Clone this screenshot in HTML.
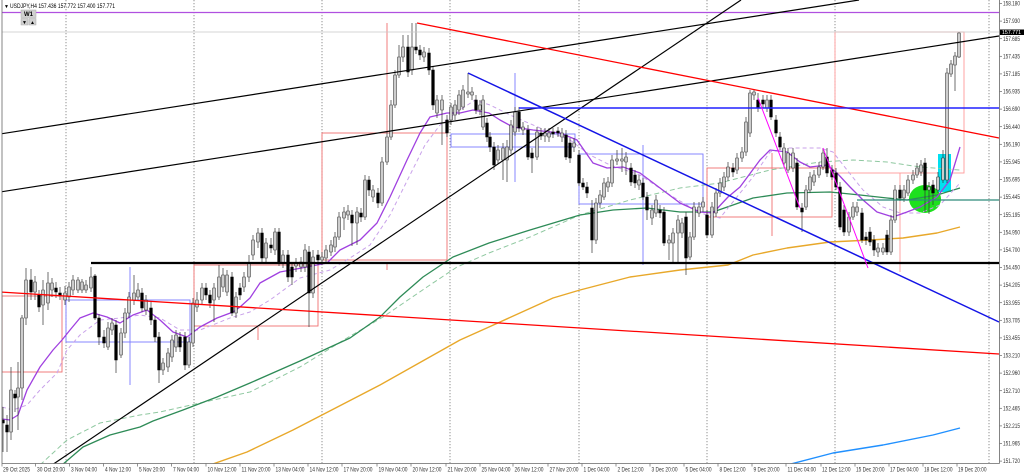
<!DOCTYPE html>
<html><head><meta charset="utf-8"><style>
html,body{margin:0;padding:0;background:#fff;}
svg{display:block;}
text{font-family:"Liberation Sans",sans-serif;}
</style></head><body>
<svg width="1024" height="475" viewBox="0 0 1024 475" xmlns="http://www.w3.org/2000/svg">
<defs><clipPath id="c"><rect x="2" y="0" width="997.5" height="463.5"/></clipPath></defs>
<rect width="1024" height="475" fill="#fff"/>
<g clip-path="url(#c)">
<!-- grid -->
<g stroke="#777" stroke-width="0.8" stroke-dasharray="1.2 1.8">
<line x1="66" y1="0" x2="66" y2="463"/><line x1="194" y1="0" x2="194" y2="463"/><line x1="322" y1="0" x2="322" y2="463"/><line x1="450" y1="0" x2="450" y2="463"/><line x1="579" y1="0" x2="579" y2="463"/><line x1="707" y1="0" x2="707" y2="463"/><line x1="835" y1="0" x2="835" y2="463"/><line x1="989" y1="0" x2="989" y2="463"/>
</g>
<!-- boxes -->
<g fill="none" stroke="#f07070" stroke-width="0.9">
<rect x="2" y="296" width="60" height="76"/>
<rect x="194" y="265" width="124" height="61"/>
<rect x="322" y="133" width="125" height="127"/>
<rect x="707" y="168" width="125" height="49"/>
<line x1="387" y1="23" x2="387" y2="133"/><line x1="387" y1="263" x2="387" y2="270"/>
<line x1="258" y1="327" x2="258" y2="340"/>
<line x1="772" y1="153" x2="772" y2="236"/>
</g>
<g fill="none" stroke="#ff9a9a" stroke-width="0.9">
<rect x="835" y="32" width="129" height="141"/>
<line x1="900" y1="173" x2="900" y2="272"/>
</g>
<g fill="none" stroke="#7a7aff" stroke-width="0.9">
<rect x="66" y="300" width="124" height="42"/>
<line x1="130" y1="267" x2="130" y2="385"/>
<rect x="451" y="134" width="124" height="13"/>
<line x1="515" y1="73" x2="515" y2="182"/>
<rect x="579" y="154" width="124" height="50"/>
<line x1="643" y1="145" x2="643" y2="265"/>
</g>
<!-- highlights -->
<ellipse cx="925" cy="199" rx="16" ry="14" fill="#1ee01e"/>
<rect x="938" y="154" width="13" height="38" fill="#00e0f0"/>
<!-- MAs -->
<g fill="none" stroke-linejoin="round">
<polyline stroke="#8fc8a0" stroke-width="1" stroke-dasharray="5 3" points="40,465 67,440 100,423 140,415 160,412 200,403 250,392 300,367 347,338 383,317 427,287 457,267 489,253 530,237 580,215 630,200 680,188 720,183 770,170 820,162 853,160 887,162 920,167 960,170"/>
<polyline stroke="#2e8b57" stroke-width="1.3" points="62,465 83,447 110,435 140,427 153,421 183,410 217,397 250,383 300,361 350,338 380,317 400,297 423,277 453,257 489,243 530,230 580,215 613,210 647,208 680,212 713,212 753,198 787,193 830,192 860,195 887,198 907,200 937,195 960,188"/>
<polyline stroke="#e8a82a" stroke-width="1.4" points="210,465 247,452 293,430 380,385 460,340 489,327 553,298 580,290 630,277 680,270 728,265 753,255 787,248 830,242 870,240 903,238 937,233 960,227"/>
<polyline stroke="#2090ff" stroke-width="1.4" points="787,465 833,453 883,445 933,435 960,428"/>
<polyline stroke="#c9a2ea" stroke-width="1" stroke-dasharray="4 3" points="2,407 13,410 27,405 40,390 57,373 67,350 80,335 100,320 120,318 140,315 160,318 180,330 200,330 230,318 250,312 270,300 300,278 330,270 350,258 370,245 390,215 410,175 425,145 440,125 460,110 475,100 490,105 510,115 540,128 570,140 590,155 610,165 640,175 670,195 700,213 720,218 753,177 770,152 787,148 820,148 833,152 847,170 863,190 883,207 900,213 920,213 940,205 960,183"/>
<polyline stroke="#a040e0" stroke-width="1.3" points="2,419 10,420 18,415 27,390 40,367 53,350 62,340 70,330 80,318 93,313 107,317 120,323 133,315 147,310 160,320 173,332 187,337 200,327 217,318 233,312 240,307 250,298 260,283 280,272 307,267 327,263 340,250 360,240 377,223 390,197 407,160 420,133 430,117 447,113 460,113 473,110 489,113 500,120 513,127 533,130 560,133 577,140 593,163 607,168 623,167 640,173 660,188 680,203 700,212 713,213 728,197 740,187 760,160 770,150 787,152 800,162 810,167 827,165 837,173 850,187 863,200 877,212 893,217 907,212 920,207 937,197 950,180 960,147"/>
</g>
<!-- candles -->
<path fill="none" stroke="#333" stroke-width="0.7" d="M3 407V452M7 415V452M11 367V440M15 390V412M18 362V430M22 315V400M26 268V325M31 269V300M35 276V300M39 290V312M43 280V325M48 272V310M52 278V297M56 282V298M60 287V300M65 286V305M69 282V302M73 275V295M78 277V293M82 279V293M86 280V293M91 267V292M95 274V320M99 314V345M104 330V348M108 322V350M112 318V335M116 320V373M121 328V358M125 308V338M129 292V318M134 275V305M138 283V300M142 288V312M146 295V315M151 302V325M155 316V342M159 332V383M163 358V375M168 348V372M172 335V362M176 330V352M180 332V352M185 332V370M189 337V368M193 298V347M197 292V312M202 283V305M206 283V300M210 290V308M214 283V322M219 265V300M223 268V292M227 270V296M232 272V316M236 292V318M240 283V300M244 272V292M249 255V282M253 235V260M258 228V248M262 228V262M266 238V262M271 238V253M275 228V255M279 228V266M283 250V268M288 250V282M292 262V285M296 258V272M301 257V272M305 244V272M309 246V327M313 250V298M318 250V265M322 252V265M326 245V262M331 240V256M335 232V252M339 212V240M344 207V230M348 205V220M352 210V246M357 207V245M361 208V222M365 175V220M369 176V196M373 185V202M378 188V208M382 157V206M387 132V165M391 100V140M395 70V108M399 45V78M403 35V62M408 35V77M412 23V75M416 23V54M420 45V60M424 47V62M429 48V75M433 66V110M437 95V118M442 95V145M447 115V137M451 103V125M455 100V120M459 90V115M463 85V110M468 73V98M472 87V100M476 95V114M480 100V115M483 95V130M487 118V142M490 132V152M494 142V170M498 145V164M503 143V180M507 140V182M511 120V154M515 107V136M519 107V132M523 122V135M528 125V160M532 148V173M537 127V160M541 128V140M545 128V142M549 128V142M553 128V138M558 127V137M562 128V142M566 130V160M570 138V163M574 138V152M579 150V186M583 178V190M587 182V198M592 200V253M596 198V244M600 190V208M604 178V200M608 177V192M612 155V187M617 150V165M622 148V172M626 152V175M631 163V186M635 170V188M639 175V190M643 178V200M647 192V220M652 205V225M656 195V217M660 205V218M664 207V246M669 235V260M673 228V262M678 215V262M682 218V238M686 212V275M690 232V260M694 202V240M699 202V217M703 197V212M707 210V238M712 202V238M716 188V217M720 178V197M724 172V191M728 162V181M733 163V177M737 153V174M742 147V162M746 117V156M750 90V137M754 90V100M758 93V112M763 95V108M767 95V112M771 95V120M776 115V137M780 132V150M784 143V167M788 148V173M793 148V172M797 158V210M802 203V232M806 185V210M810 172V193M814 170V186M819 162V178M823 148V170M827 148V177M832 165V180M836 168V190M840 182V230M844 205V236M849 212V236M853 202V220M857 202V216M862 208V243M866 232V245M870 227V246M874 235V256M878 243V257M883 243V255M887 230V255M891 215V255M895 185V223M900 185V201M904 185V202M908 175V196M913 170V184M917 163V178M921 160V176M925 158V212M929 182V214M933 180V205M938 172V193M943 150V183M947 68V183M951 60V77M955 52V91M959 32V58"/>
<g transform="translate(-1.3 0)">
<path fill="#cdcdcd" stroke="#333" stroke-width="0.6" d="M11 390h2.6V432h-2.6zM18 388h2.6V397h-2.6zM22 318h2.6V388h-2.6zM26 280h2.6V318h-2.6zM35 282h2.6V292h-2.6zM43 290h2.6V305h-2.6zM48 283h2.6V303h-2.6zM52 283h2.6V290h-2.6zM65 293h2.6V300h-2.6zM69 287h2.6V297h-2.6zM73 280h2.6V290h-2.6zM78 280h2.6V290h-2.6zM82 282h2.6V290h-2.6zM86 285h2.6V290h-2.6zM91 277h2.6V288h-2.6zM108 328h2.6V347h-2.6zM112 323h2.6V330h-2.6zM121 333h2.6V355h-2.6zM125 313h2.6V333h-2.6zM129 297h2.6V313h-2.6zM134 293h2.6V300h-2.6zM138 290h2.6V297h-2.6zM146 300h2.6V310h-2.6zM163 363h2.6V370h-2.6zM168 353h2.6V367h-2.6zM172 340h2.6V357h-2.6zM176 335h2.6V347h-2.6zM189 342h2.6V365h-2.6zM193 303h2.6V343h-2.6zM197 300h2.6V307h-2.6zM202 288h2.6V300h-2.6zM214 288h2.6V300h-2.6zM219 277h2.6V297h-2.6zM223 275h2.6V287h-2.6zM227 275h2.6V292h-2.6zM236 297h2.6V313h-2.6zM244 277h2.6V287h-2.6zM249 263h2.6V277h-2.6zM253 240h2.6V255h-2.6zM258 233h2.6V242h-2.6zM266 243h2.6V258h-2.6zM275 232h2.6V250h-2.6zM283 255h2.6V263h-2.6zM296 263h2.6V266h-2.6zM301 262h2.6V267h-2.6zM305 250h2.6V267h-2.6zM313 257h2.6V293h-2.6zM322 257h2.6V260h-2.6zM326 250h2.6V258h-2.6zM331 245h2.6V252h-2.6zM335 237h2.6V247h-2.6zM339 217h2.6V237h-2.6zM344 212h2.6V218h-2.6zM348 211h2.6V215h-2.6zM357 212h2.6V223h-2.6zM365 180h2.6V217h-2.6zM373 190h2.6V197h-2.6zM382 162h2.6V203h-2.6zM387 137h2.6V162h-2.6zM391 105h2.6V137h-2.6zM395 75h2.6V105h-2.6zM399 57h2.6V75h-2.6zM403 47h2.6V57h-2.6zM412 47h2.6V70h-2.6zM424 52h2.6V57h-2.6zM437 100h2.6V113h-2.6zM442 100h2.6V110h-2.6zM451 107h2.6V120h-2.6zM455 105h2.6V115h-2.6zM459 95h2.6V110h-2.6zM463 90h2.6V107h-2.6zM468 92h2.6V94h-2.6zM472 92h2.6V95h-2.6zM480 105h2.6V110h-2.6zM483 100h2.6V127h-2.6zM498 150h2.6V160h-2.6zM503 148h2.6V160h-2.6zM507 147h2.6V160h-2.6zM511 125h2.6V150h-2.6zM515 112h2.6V132h-2.6zM523 127h2.6V130h-2.6zM537 132h2.6V157h-2.6zM545 133h2.6V136h-2.6zM549 133h2.6V137h-2.6zM562 133h2.6V137h-2.6zM574 143h2.6V147h-2.6zM596 203h2.6V240h-2.6zM600 195h2.6V203h-2.6zM604 183h2.6V197h-2.6zM608 182h2.6V187h-2.6zM612 160h2.6V183h-2.6zM617 159h2.6V161h-2.6zM622 159h2.6V161h-2.6zM626 157h2.6V162h-2.6zM639 180h2.6V185h-2.6zM652 210h2.6V218h-2.6zM656 200h2.6V213h-2.6zM669 240h2.6V243h-2.6zM673 233h2.6V243h-2.6zM678 220h2.6V233h-2.6zM682 223h2.6V233h-2.6zM690 237h2.6V257h-2.6zM694 207h2.6V237h-2.6zM699 207h2.6V213h-2.6zM703 202h2.6V207h-2.6zM712 207h2.6V235h-2.6zM716 193h2.6V213h-2.6zM720 183h2.6V193h-2.6zM724 177h2.6V187h-2.6zM728 167h2.6V177h-2.6zM737 158h2.6V170h-2.6zM742 152h2.6V158h-2.6zM746 122h2.6V152h-2.6zM750 93h2.6V133h-2.6zM754 92h2.6V95h-2.6zM767 100h2.6V108h-2.6zM784 148h2.6V163h-2.6zM788 153h2.6V170h-2.6zM793 153h2.6V168h-2.6zM806 190h2.6V207h-2.6zM810 177h2.6V190h-2.6zM814 175h2.6V182h-2.6zM819 167h2.6V175h-2.6zM823 153h2.6V167h-2.6zM849 217h2.6V232h-2.6zM853 207h2.6V217h-2.6zM857 207h2.6V212h-2.6zM878 248h2.6V252h-2.6zM883 248h2.6V252h-2.6zM891 220h2.6V252h-2.6zM895 190h2.6V220h-2.6zM904 190h2.6V198h-2.6zM908 180h2.6V193h-2.6zM913 175h2.6V180h-2.6zM917 168h2.6V175h-2.6zM921 165h2.6V172h-2.6zM929 187h2.6V190h-2.6zM938 177h2.6V190h-2.6zM943 158h2.6V180h-2.6zM947 73h2.6V180h-2.6zM951 64h2.6V74h-2.6zM955 56h2.6V65h-2.6zM959 33h2.6V57h-2.6z"/>
<path fill="#000" stroke="#000" stroke-width="0.6" d="M3 420h2.6V423h-2.6zM7 425h2.6V432h-2.6zM15 394h2.6V398h-2.6zM31 280h2.6V292h-2.6zM39 295h2.6V307h-2.6zM56 288h2.6V292h-2.6zM60 293h2.6V296h-2.6zM95 276h2.6V318h-2.6zM99 318h2.6V337h-2.6zM104 337h2.6V343h-2.6zM116 325h2.6V360h-2.6zM142 293h2.6V308h-2.6zM151 308h2.6V320h-2.6zM155 320h2.6V337h-2.6zM159 337h2.6V370h-2.6zM180 337h2.6V347h-2.6zM185 337h2.6V365h-2.6zM206 288h2.6V295h-2.6zM210 295h2.6V303h-2.6zM232 277h2.6V313h-2.6zM240 288h2.6V295h-2.6zM262 233h2.6V258h-2.6zM271 245h2.6V248h-2.6zM279 232h2.6V263h-2.6zM288 255h2.6V277h-2.6zM292 267h2.6V277h-2.6zM309 252h2.6V293h-2.6zM318 255h2.6V260h-2.6zM352 215h2.6V223h-2.6zM361 213h2.6V217h-2.6zM369 180h2.6V190h-2.6zM378 193h2.6V203h-2.6zM408 47h2.6V72h-2.6zM416 47h2.6V50h-2.6zM420 50h2.6V55h-2.6zM429 53h2.6V70h-2.6zM433 70h2.6V105h-2.6zM447 120h2.6V133h-2.6zM476 100h2.6V110h-2.6zM487 123h2.6V137h-2.6zM490 137h2.6V147h-2.6zM494 147h2.6V165h-2.6zM519 112h2.6V128h-2.6zM528 130h2.6V157h-2.6zM532 153h2.6V158h-2.6zM541 133h2.6V136h-2.6zM553 132h2.6V134h-2.6zM558 131h2.6V133h-2.6zM566 135h2.6V157h-2.6zM570 143h2.6V158h-2.6zM579 155h2.6V183h-2.6zM583 183h2.6V187h-2.6zM587 187h2.6V193h-2.6zM592 208h2.6V240h-2.6zM631 168h2.6V182h-2.6zM635 175h2.6V183h-2.6zM643 183h2.6V197h-2.6zM647 197h2.6V210h-2.6zM660 210h2.6V213h-2.6zM664 212h2.6V243h-2.6zM686 217h2.6V258h-2.6zM707 215h2.6V235h-2.6zM733 168h2.6V172h-2.6zM758 100h2.6V108h-2.6zM763 100h2.6V104h-2.6zM771 100h2.6V117h-2.6zM776 120h2.6V133h-2.6zM780 137h2.6V147h-2.6zM797 163h2.6V207h-2.6zM802 208h2.6V212h-2.6zM827 157h2.6V173h-2.6zM832 170h2.6V177h-2.6zM836 173h2.6V187h-2.6zM840 187h2.6V227h-2.6zM844 210h2.6V232h-2.6zM862 213h2.6V240h-2.6zM866 237h2.6V240h-2.6zM870 232h2.6V242h-2.6zM874 240h2.6V250h-2.6zM887 235h2.6V252h-2.6zM900 190h2.6V198h-2.6zM925 163h2.6V190h-2.6zM933 185h2.6V193h-2.6z"/>
</g>
<!-- trend lines & horizontals -->
<line x1="2" y1="12.5" x2="999" y2="12.5" stroke="#b050e0" stroke-width="1.3"/>
<line x1="2" y1="32" x2="999" y2="32" stroke="#c8c8c8" stroke-width="0.8"/>
<line x1="0" y1="134" x2="859" y2="0" stroke="#000" stroke-width="1.2"/>
<line x1="0" y1="192" x2="999" y2="36" stroke="#000" stroke-width="1.2"/>
<line x1="52" y1="465" x2="741" y2="0" stroke="#000" stroke-width="1.2"/>
<line x1="417" y1="23" x2="999" y2="138" stroke="#ff0000" stroke-width="1.3"/>
<line x1="0" y1="292" x2="999" y2="354" stroke="#ff0000" stroke-width="1.3"/>
<line x1="468" y1="73" x2="999" y2="322" stroke="#1414e6" stroke-width="1.5"/>
<line x1="519" y1="108" x2="999" y2="108" stroke="#2020ff" stroke-width="1.4"/>
<line x1="91" y1="263" x2="999" y2="263" stroke="#000" stroke-width="2.2"/>
<line x1="857" y1="200" x2="999" y2="200" stroke="#2e8b7a" stroke-width="1.3"/>
<line x1="758" y1="98" x2="800" y2="208" stroke="#ff00ff" stroke-width="1"/>
<line x1="823" y1="148" x2="868" y2="268" stroke="#ff00ff" stroke-width="1"/>
</g>
<!-- frame -->
<line x1="2" y1="0" x2="2" y2="463.5" stroke="#666" stroke-width="0.8"/>
<line x1="2" y1="463.5" x2="999.5" y2="463.5" stroke="#666" stroke-width="0.8"/>
<line x1="999.5" y1="0" x2="999.5" y2="463.5" stroke="#666" stroke-width="0.8"/>
<!-- header -->
<text x="4" y="8" font-size="5" fill="#000">▼</text>
<text x="10" y="8" font-size="6" fill="#000" textLength="105" lengthAdjust="spacingAndGlyphs">USDJPY,H4  157.436 157.772 157.400 157.771</text>
<rect x="21" y="10" width="15" height="7.5" fill="#d0d0d0" stroke="#aaa" stroke-width="0.5"/>
<text x="28.5" y="16" font-size="6" font-weight="bold" text-anchor="middle" fill="#000">W1</text>
<rect x="21" y="18.5" width="7" height="6.5" fill="#d0d0d0" stroke="#aaa" stroke-width="0.5"/>
<rect x="29" y="18.5" width="7" height="6.5" fill="#d0d0d0" stroke="#aaa" stroke-width="0.5"/>
<text x="24.5" y="24" font-size="5" text-anchor="middle" fill="#000">▼</text>
<text x="32.5" y="24" font-size="5" text-anchor="middle" fill="#000">▲</text>
<!-- price axis -->
<g stroke="#666" stroke-width="0.7">
<line x1="999.5" y1="3.5" x2="1002" y2="3.5"/><line x1="999.5" y1="21.1" x2="1002" y2="21.1"/><line x1="999.5" y1="38.7" x2="1002" y2="38.7"/><line x1="999.5" y1="56.3" x2="1002" y2="56.3"/><line x1="999.5" y1="73.9" x2="1002" y2="73.9"/><line x1="999.5" y1="91.5" x2="1002" y2="91.5"/><line x1="999.5" y1="109.1" x2="1002" y2="109.1"/><line x1="999.5" y1="126.7" x2="1002" y2="126.7"/><line x1="999.5" y1="144.3" x2="1002" y2="144.3"/><line x1="999.5" y1="161.9" x2="1002" y2="161.9"/><line x1="999.5" y1="179.5" x2="1002" y2="179.5"/><line x1="999.5" y1="197.1" x2="1002" y2="197.1"/><line x1="999.5" y1="214.7" x2="1002" y2="214.7"/><line x1="999.5" y1="232.3" x2="1002" y2="232.3"/><line x1="999.5" y1="249.9" x2="1002" y2="249.9"/><line x1="999.5" y1="267.5" x2="1002" y2="267.5"/><line x1="999.5" y1="285.1" x2="1002" y2="285.1"/><line x1="999.5" y1="302.7" x2="1002" y2="302.7"/><line x1="999.5" y1="320.3" x2="1002" y2="320.3"/><line x1="999.5" y1="337.9" x2="1002" y2="337.9"/><line x1="999.5" y1="355.5" x2="1002" y2="355.5"/><line x1="999.5" y1="373.1" x2="1002" y2="373.1"/><line x1="999.5" y1="390.7" x2="1002" y2="390.7"/><line x1="999.5" y1="408.3" x2="1002" y2="408.3"/><line x1="999.5" y1="425.9" x2="1002" y2="425.9"/><line x1="999.5" y1="443.5" x2="1002" y2="443.5"/><line x1="999.5" y1="461.1" x2="1002" y2="461.1"/>
</g>
<g font-size="6" fill="#333">
<text x="1003" y="5.6" textLength="17" lengthAdjust="spacingAndGlyphs">158.180</text>
<text x="1003" y="23.2" textLength="17" lengthAdjust="spacingAndGlyphs">157.930</text>
<text x="1003" y="40.8" textLength="17" lengthAdjust="spacingAndGlyphs">157.685</text>
<text x="1003" y="58.4" textLength="17" lengthAdjust="spacingAndGlyphs">157.435</text>
<text x="1003" y="76" textLength="17" lengthAdjust="spacingAndGlyphs">157.185</text>
<text x="1003" y="93.6" textLength="17" lengthAdjust="spacingAndGlyphs">156.935</text>
<text x="1003" y="111.2" textLength="17" lengthAdjust="spacingAndGlyphs">156.690</text>
<text x="1003" y="128.8" textLength="17" lengthAdjust="spacingAndGlyphs">156.440</text>
<text x="1003" y="146.4" textLength="17" lengthAdjust="spacingAndGlyphs">156.190</text>
<text x="1003" y="164" textLength="17" lengthAdjust="spacingAndGlyphs">155.945</text>
<text x="1003" y="181.6" textLength="17" lengthAdjust="spacingAndGlyphs">155.695</text>
<text x="1003" y="199.2" textLength="17" lengthAdjust="spacingAndGlyphs">155.445</text>
<text x="1003" y="216.8" textLength="17" lengthAdjust="spacingAndGlyphs">155.195</text>
<text x="1003" y="234.4" textLength="17" lengthAdjust="spacingAndGlyphs">154.950</text>
<text x="1003" y="252" textLength="17" lengthAdjust="spacingAndGlyphs">154.700</text>
<text x="1003" y="269.6" textLength="17" lengthAdjust="spacingAndGlyphs">154.450</text>
<text x="1003" y="287.2" textLength="17" lengthAdjust="spacingAndGlyphs">154.205</text>
<text x="1003" y="304.8" textLength="17" lengthAdjust="spacingAndGlyphs">153.955</text>
<text x="1003" y="322.4" textLength="17" lengthAdjust="spacingAndGlyphs">153.705</text>
<text x="1003" y="340" textLength="17" lengthAdjust="spacingAndGlyphs">153.455</text>
<text x="1003" y="357.6" textLength="17" lengthAdjust="spacingAndGlyphs">153.210</text>
<text x="1003" y="375.2" textLength="17" lengthAdjust="spacingAndGlyphs">152.960</text>
<text x="1003" y="392.8" textLength="17" lengthAdjust="spacingAndGlyphs">152.710</text>
<text x="1003" y="410.4" textLength="17" lengthAdjust="spacingAndGlyphs">152.465</text>
<text x="1003" y="428" textLength="17" lengthAdjust="spacingAndGlyphs">152.215</text>
<text x="1003" y="445.6" textLength="17" lengthAdjust="spacingAndGlyphs">151.965</text>
<text x="1003" y="463.2" textLength="17" lengthAdjust="spacingAndGlyphs">151.720</text>
</g>
<rect x="1000" y="29.5" width="24" height="5.5" fill="#000"/>
<text x="1002" y="34.2" font-size="5.5" fill="#fff" textLength="19" lengthAdjust="spacingAndGlyphs">157.771</text>
<!-- time axis -->
<g stroke="#666" stroke-width="0.7">
<line x1="2" y1="463.5" x2="2" y2="466.5"/><line x1="35.5" y1="463.5" x2="35.5" y2="466.5"/><line x1="69.5" y1="463.5" x2="69.5" y2="466.5"/><line x1="103.5" y1="463.5" x2="103.5" y2="466.5"/><line x1="137.5" y1="463.5" x2="137.5" y2="466.5"/><line x1="171.5" y1="463.5" x2="171.5" y2="466.5"/><line x1="206" y1="463.5" x2="206" y2="466.5"/><line x1="240" y1="463.5" x2="240" y2="466.5"/><line x1="274" y1="463.5" x2="274" y2="466.5"/><line x1="308" y1="463.5" x2="308" y2="466.5"/><line x1="342" y1="463.5" x2="342" y2="466.5"/><line x1="377" y1="463.5" x2="377" y2="466.5"/><line x1="411" y1="463.5" x2="411" y2="466.5"/><line x1="446" y1="463.5" x2="446" y2="466.5"/><line x1="480" y1="463.5" x2="480" y2="466.5"/><line x1="513" y1="463.5" x2="513" y2="466.5"/><line x1="548" y1="463.5" x2="548" y2="466.5"/><line x1="582" y1="463.5" x2="582" y2="466.5"/><line x1="616" y1="463.5" x2="616" y2="466.5"/><line x1="650" y1="463.5" x2="650" y2="466.5"/><line x1="684" y1="463.5" x2="684" y2="466.5"/><line x1="718" y1="463.5" x2="718" y2="466.5"/><line x1="752" y1="463.5" x2="752" y2="466.5"/><line x1="786" y1="463.5" x2="786" y2="466.5"/><line x1="821" y1="463.5" x2="821" y2="466.5"/><line x1="855" y1="463.5" x2="855" y2="466.5"/><line x1="889" y1="463.5" x2="889" y2="466.5"/><line x1="923" y1="463.5" x2="923" y2="466.5"/><line x1="957" y1="463.5" x2="957" y2="466.5"/>
</g>
<g font-size="6" fill="#333">
<text x="3" y="471.5" textLength="27" lengthAdjust="spacingAndGlyphs">29 Oct 2025</text>
<text x="37" y="471.5" textLength="28" lengthAdjust="spacingAndGlyphs">30 Oct 20:00</text>
<text x="71" y="471.5" textLength="26" lengthAdjust="spacingAndGlyphs">3 Nov 04:00</text>
<text x="105" y="471.5" textLength="26" lengthAdjust="spacingAndGlyphs">4 Nov 12:00</text>
<text x="139" y="471.5" textLength="26" lengthAdjust="spacingAndGlyphs">5 Nov 20:00</text>
<text x="173" y="471.5" textLength="26" lengthAdjust="spacingAndGlyphs">7 Nov 04:00</text>
<text x="207.5" y="471.5" textLength="29" lengthAdjust="spacingAndGlyphs">10 Nov 12:00</text>
<text x="241.5" y="471.5" textLength="29" lengthAdjust="spacingAndGlyphs">11 Nov 20:00</text>
<text x="275.5" y="471.5" textLength="29" lengthAdjust="spacingAndGlyphs">13 Nov 04:00</text>
<text x="309.5" y="471.5" textLength="29" lengthAdjust="spacingAndGlyphs">14 Nov 12:00</text>
<text x="343.5" y="471.5" textLength="29" lengthAdjust="spacingAndGlyphs">17 Nov 20:00</text>
<text x="378.5" y="471.5" textLength="29" lengthAdjust="spacingAndGlyphs">19 Nov 04:00</text>
<text x="412.5" y="471.5" textLength="29" lengthAdjust="spacingAndGlyphs">20 Nov 12:00</text>
<text x="447.5" y="471.5" textLength="29" lengthAdjust="spacingAndGlyphs">21 Nov 20:00</text>
<text x="481.5" y="471.5" textLength="29" lengthAdjust="spacingAndGlyphs">25 Nov 04:00</text>
<text x="514.5" y="471.5" textLength="29" lengthAdjust="spacingAndGlyphs">26 Nov 12:00</text>
<text x="549.5" y="471.5" textLength="29" lengthAdjust="spacingAndGlyphs">27 Nov 20:00</text>
<text x="583.5" y="471.5" textLength="26" lengthAdjust="spacingAndGlyphs">1 Dec 04:00</text>
<text x="617.5" y="471.5" textLength="26" lengthAdjust="spacingAndGlyphs">2 Dec 12:00</text>
<text x="651.5" y="471.5" textLength="26" lengthAdjust="spacingAndGlyphs">3 Dec 20:00</text>
<text x="685.5" y="471.5" textLength="26" lengthAdjust="spacingAndGlyphs">5 Dec 04:00</text>
<text x="719.5" y="471.5" textLength="26" lengthAdjust="spacingAndGlyphs">8 Dec 12:00</text>
<text x="753.5" y="471.5" textLength="26" lengthAdjust="spacingAndGlyphs">9 Dec 20:00</text>
<text x="787.5" y="471.5" textLength="28.5" lengthAdjust="spacingAndGlyphs">11 Dec 04:00</text>
<text x="822" y="471.5" textLength="28.5" lengthAdjust="spacingAndGlyphs">12 Dec 12:00</text>
<text x="856" y="471.5" textLength="28.5" lengthAdjust="spacingAndGlyphs">15 Dec 20:00</text>
<text x="890" y="471.5" textLength="28.5" lengthAdjust="spacingAndGlyphs">17 Dec 04:00</text>
<text x="924" y="471.5" textLength="28.5" lengthAdjust="spacingAndGlyphs">18 Dec 12:00</text>
<text x="958" y="471.5" textLength="28.5" lengthAdjust="spacingAndGlyphs">19 Dec 20:00</text>
</g>
</svg>
</body></html>
